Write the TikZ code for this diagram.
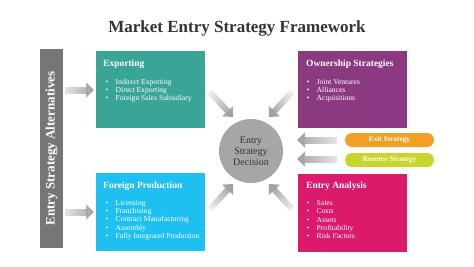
\documentclass[tikz,border=0pt]{standalone}
\usepackage{fontspec}
\setmainfont{Liberation Serif}
\usetikzlibrary{arrows.meta,fadings}
\definecolor{titlegray}{HTML}{333333}
\definecolor{barGray}{HTML}{767676}
\definecolor{expTeal}{HTML}{3AA597}
\definecolor{ownPurple}{HTML}{8B3A82}
\definecolor{prodCyan}{HTML}{1EC0F2}
\definecolor{anaMagenta}{HTML}{DC1A6B}
\definecolor{decGray}{HTML}{A6A6A6}
\definecolor{exitOrange}{HTML}{F2A025}
\definecolor{reLime}{HTML}{C9D42D}
\tikzfading[name=arrowfade, left color=transparent!80, right color=transparent!0]
\newcommand\myitem{\makebox[10pt][l]{\textbullet}}
\tikzset{
  box/.style={draw=none, inner sep=0pt, minimum width=109pt, minimum height=77pt},
  boxtitle/.style={anchor=base west, inner sep=0pt, text=white, font=\fontsize{9.5}{11}\selectfont\bfseries},
  item/.style={anchor=base west, inner sep=0pt, text=white, font=\fontsize{7.6}{8}\selectfont},
  pill/.style={rounded corners=7pt, minimum width=89pt, minimum height=14pt, inner sep=0pt, text=white, font=\fontsize{7.3}{8}\selectfont\bfseries},
  fat/.style={line width=7pt, draw=gray!75, -{Triangle[width=15pt,length=8pt]}, path fading=arrowfade},
}
\begin{document}
\begin{tikzpicture}[x=1pt,y=-1pt]
\useasboundingbox[fill=white] (0,0) rectangle (474,266);
% title
\node[anchor=base, inner sep=0pt, text=titlegray, font=\fontsize{17}{20}\selectfont\bfseries] (title) at (237,32) {Market Entry Strategy Framework};
% side bar
\node[fill=barGray, minimum width=23pt, minimum height=199pt, inner sep=0pt] (bar) at (51.5,148.5) {};
\node[rotate=90, text=white, inner sep=0pt, font=\fontsize{13}{15}\selectfont\bfseries] (bartext) at (bar.center) {Entry Strategy Alternatives};
% boxes
\node[box, fill=expTeal] (exp) at (150,89.5) {};
\node[box, fill=ownPurple] (own) at (352.5,89.5) {};
\node[box, fill=prodCyan, minimum height=78pt] (prod) at (150,212) {};
\node[box, fill=anaMagenta, minimum height=78pt] (ana) at (352.5,212.5) {};
% titles
\node[boxtitle] (expT) at (103,66.5) {Exporting};
\node[boxtitle] (ownT) at (306,66.5) {Ownership Strategies};
\node[boxtitle] (prodT) at (103,188.5) {Foreign Production};
\node[boxtitle] (anaT) at (306,188.5) {Entry Analysis};
% items
\foreach \t [count=\i] in {Indirect Exporting, Direct Exporting, Foreign Sales Subsidiary}
  \node[item] (exp-\i) at (105.5,{84.5+8*(\i-1)}) {\myitem\t};
\foreach \t [count=\i] in {Joint Ventures, Alliances, Acquisitions}
  \node[item] (own-\i) at (306.5,{84.5+8*(\i-1)}) {\myitem\t};
\foreach \t [count=\i] in {Licensing, Franchising, Contract Manufacturing, Assembly, Fully Integrated Production}
  \node[item] (prod-\i) at (105.5,{205.5+8.2*(\i-1)}) {\myitem\t};
\foreach \t [count=\i] in {Sales, Costs, Assets, Profitability, Risk Factors}
  \node[item] (ana-\i) at (306.5,{205.5+8.3*(\i-1)}) {\myitem\t};
% decision circle
\node[circle, fill=decGray, minimum size=64pt, inner sep=0pt, align=center, text=titlegray, font=\fontsize{10}{11}\selectfont] (dec) at (251,151) {Entry\\Strategy\\Decision};
% pills
\node[pill, fill=exitOrange] (exit) at (389.5,140) {Exit Strategy};
\node[pill, fill=reLime] (reent) at (389.5,160) {Reentry Strategy};
% arrow end coordinates
\coordinate (a1s) at (65,90);   \coordinate (a1e) at (94,90);
\coordinate (a2s) at (65,212);  \coordinate (a2e) at (94,212);
\coordinate (dtl) at (210,92);  \coordinate (dtle) at (233,117);
\coordinate (dtr) at (292,92);  \coordinate (dtre) at (269,117);
\coordinate (dbl) at (210,209); \coordinate (dble) at (233,184);
\coordinate (dbr) at (292,209); \coordinate (dbre) at (269,184);
\coordinate (r1s) at (337,140); \coordinate (r1e) at (297,140);
\coordinate (r2s) at (337,159); \coordinate (r2e) at (297,159);
% arrows
\draw[fat, fading angle=0] (a1s) -- (a1e);
\draw[fat, fading angle=0] (a2s) -- (a2e);
\draw[fat, line width=6pt, fading angle=-48] (dtl) -- (dtle);
\draw[fat, line width=6pt, fading angle=-132] (dtr) -- (dtre);
\draw[fat, line width=6pt, fading angle=48] (dbl) -- (dble);
\draw[fat, line width=6pt, fading angle=132] (dbr) -- (dbre);
\draw[fat, fading angle=180] (r1s) -- (r1e);
\draw[fat, fading angle=180] (r2s) -- (r2e);
\end{tikzpicture}
\end{document}
